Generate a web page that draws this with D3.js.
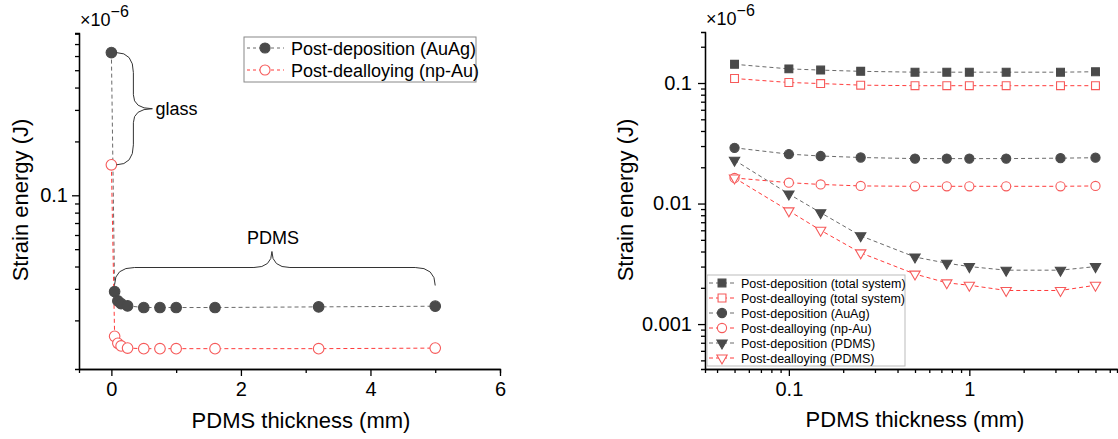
<!DOCTYPE html>
<html>
<head>
<meta charset="utf-8">
<script src="https://cdn.jsdelivr.net/npm/d3@7"></script>
<style>
  body { margin: 0; background: #fff; }
  svg text { font-family: "Liberation Sans", Arial, sans-serif; fill: #000; }
  .axis path, .axis line { stroke: #000; stroke-width: 1.3; }
  .axis text { font-size: 20px; }
</style>
</head>
<body>
<svg id="chart" width="1118" height="439"></svg>
<script>
// PDMS thickness (mm)
var thickness = [0.05, 0.1, 0.15, 0.25, 0.5, 0.75, 1, 1.6, 3.2, 5];
var glassThickness = 0;
// strain energy values (x1e-6 J)
var glassAuAg = 0.627;
var glassNpAu = 0.148;
var depTotal = [0.143, 0.131, 0.128, 0.125, 0.123, 0.123, 0.123, 0.123, 0.123, 0.124];
var deaTotal = [0.109, 0.101, 0.099, 0.096, 0.095, 0.095, 0.095, 0.095, 0.095, 0.095];
var depAuAg = [0.029, 0.0257, 0.0248, 0.0241, 0.0236, 0.0236, 0.0236, 0.0236, 0.0238, 0.024];
var deaNpAu = [0.0163, 0.0149, 0.0144, 0.014, 0.0139, 0.0139, 0.0139, 0.0139, 0.0139, 0.014];
var depPDMS = [0.0229, 0.012, 0.0084, 0.0054, 0.0036, 0.0032, 0.003, 0.0028, 0.0028, 0.003];
var deaPDMS = [0.0163, 0.0087, 0.006, 0.0039, 0.0026, 0.0022, 0.0021, 0.0019, 0.0019, 0.0021];

var leftXTicks = [0, 2, 4, 6];
var leftXMinor = [1, 3, 5];
var leftYTicks = [0.1];
var rightYTicks = [0.001, 0.01, 0.1];
var rightXTicks = [0.1, 1];

var leftNames = ["Post-deposition (AuAg)", "Post-dealloying (np-Au)"];
var rightNames = ["Post-deposition (total system)", "Post-dealloying (total system)",
    "Post-deposition (AuAg)", "Post-dealloying (np-Au)",
    "Post-deposition (PDMS)", "Post-dealloying (PDMS)"];

var DARK = "#4a4a4a", GRAYLINE = "#6a6a6a", RED = "#ff3b3b", REDMARK = "#f65a5a";

var svg = d3.select("#chart");

function logMinor(domain) {
    var out = [];
    for (var e = -5; e <= 1; e++) {
        for (var k = 2; k <= 9; k++) {
            var v = k * Math.pow(10, e);
            if (v >= domain[0] && v <= domain[1]) out.push(+v.toPrecision(3));
        }
    }
    return out;
}

function fmt(d) { return String(+d.toPrecision(3)); }

function sup(sel, x, y) {
    var t = sel.append("text").attr("x", x).attr("y", y);
    t.append("tspan").attr("font-size", 18).text("\u00d710");
    t.append("tspan").attr("dy", -9).attr("font-size", 16).text("\u22126");
    return t;
}

function marker(g, shape, x, y, filled, sz) {
    var type = shape == "square" ? d3.symbolSquare : shape == "tri" ? d3.symbolTriangle : d3.symbolCircle;
    g.append("path")
        .attr("d", d3.symbol().type(type).size(sz)())
        .attr("transform", "translate(" + x + "," + y + ")" + (shape == "tri" ? " rotate(180)" : ""))
        .attr("fill", filled ? DARK : "#fff")
        .attr("stroke", filled ? DARK : REDMARK)
        .attr("stroke-width", 1.1);
}

// ---------------- left chart ----------------
var xL = d3.scaleLinear().domain([-0.5, 6]).range([79, 500]);
var yL = d3.scaleLog().domain([0.0107, 0.807]).range([369, 33]);

var gL = svg.append("g");

gL.append("g").attr("class", "axis").attr("transform", "translate(0,369)")
    .call(d3.axisBottom(xL).tickValues(leftXMinor).tickSize(4).tickFormat(""));
gL.append("g").attr("class", "axis").attr("transform", "translate(0,369)")
    .call(d3.axisBottom(xL).tickValues(leftXTicks).tickSizeInner(7).tickSizeOuter(0).tickPadding(6).tickFormat(d3.format("d")));
gL.append("g").attr("class", "axis").attr("transform", "translate(79,0)")
    .call(d3.axisLeft(yL).tickValues(logMinor(yL.domain())).tickSize(4).tickFormat(""));
gL.append("g").attr("class", "axis").attr("transform", "translate(79,0)")
    .call(d3.axisLeft(yL).tickValues(leftYTicks).tickSizeInner(7).tickSizeOuter(0).tickPadding(4).tickFormat(fmt));

gL.append("text").attr("transform", "translate(28,200) rotate(-90)")
    .attr("text-anchor", "middle").style("font-size", "22px").text("Strain energy (J)");
gL.append("text").attr("x", 301).attr("y", 428)
    .attr("text-anchor", "middle").style("font-size", "22px").text("PDMS thickness (mm)");
sup(gL, 80, 26);

var leftSeries = [
    { x: [glassThickness].concat(thickness), y: [glassAuAg].concat(depAuAg), filled: true },
    { x: [glassThickness].concat(thickness), y: [glassNpAu].concat(deaNpAu), filled: false }
];

var lineL = d3.line().x(function (d) { return xL(d[0]); }).y(function (d) { return yL(d[1]); });

leftSeries.forEach(function (s) {
    var pts = s.x.map(function (v, i) { return [v, s.y[i]]; });
    gL.append("path").attr("d", lineL(pts)).attr("fill", "none")
        .attr("stroke", s.filled ? GRAYLINE : RED).attr("stroke-width", 1)
        .attr("stroke-dasharray", "4,3");
});
leftSeries.forEach(function (s) {
    s.x.forEach(function (v, i) {
        marker(gL, "circle", xL(v), yL(s.y[i]), s.filled, 88);
    });
});

// braces
var bx = xL(glassThickness) + 5, byT = yL(glassAuAg), byB = yL(glassNpAu), bym = (byT + byB) / 2;
gL.append("path").attr("fill", "none").attr("stroke", "#333").attr("stroke-width", 1)
    .attr("d", "M" + bx + "," + byT +
        " Q" + (bx + 17) + "," + byT + " " + (bx + 17) + "," + (byT + 20) +
        " L" + (bx + 17) + "," + (bym - 14) +
        " Q" + (bx + 17) + "," + bym + " " + (bx + 36) + "," + bym +
        " Q" + (bx + 17) + "," + bym + " " + (bx + 17) + "," + (bym + 14) +
        " L" + (bx + 17) + "," + (byB - 20) +
        " Q" + (bx + 17) + "," + byB + " " + bx + "," + byB);
gL.append("text").attr("x", bx + 39).attr("y", bym + 6).style("font-size", "18px").text("glass");

var hx1 = xL(thickness[0]), hx2 = xL(thickness[thickness.length - 1]);
var hy = yL(depAuAg[0]) - 7, hxm = (hx1 + hx2) / 2 - 3;
gL.append("path").attr("fill", "none").attr("stroke", "#333").attr("stroke-width", 1)
    .attr("d", "M" + hx1 + "," + hy +
        " Q" + hx1 + "," + (hy - 17) + " " + (hx1 + 20) + "," + (hy - 17) +
        " L" + (hxm - 18) + "," + (hy - 17) +
        " Q" + hxm + "," + (hy - 17) + " " + hxm + "," + (hy - 33) +
        " Q" + hxm + "," + (hy - 17) + " " + (hxm + 18) + "," + (hy - 17) +
        " L" + (hx2 - 20) + "," + (hy - 17) +
        " Q" + hx2 + "," + (hy - 17) + " " + hx2 + "," + (hy + 1));
gL.append("text").attr("x", hxm + 1).attr("y", hy - 41).attr("text-anchor", "middle")
    .style("font-size", "18px").text("PDMS");

// left legend
var lgL = gL.append("g").attr("transform", "translate(244,37)");
lgL.append("rect").attr("width", 232).attr("height", 45).attr("fill", "#fff")
    .attr("stroke", "#888").attr("stroke-width", 1);
leftNames.forEach(function (n, i) {
    var y = 11 + i * 22;
    lgL.append("line").attr("x1", 3).attr("x2", 40).attr("y1", y).attr("y2", y)
        .attr("stroke", i == 0 ? GRAYLINE : RED).attr("stroke-dasharray", "3,3");
    marker(lgL, "circle", 21, y, i == 0, 80);
    lgL.append("text").attr("x", 47).attr("y", y + 6.5).style("font-size", "18px").text(n);
});

// ---------------- right chart ----------------
var xR = d3.scaleLog().domain([0.0343, 6.58]).range([705, 1117]);
var yR = d3.scaleLog().domain([0.000424, 0.265]).range([369, 32]);
var gR = svg.append("g");

gR.append("g").attr("class", "axis").attr("transform", "translate(0,369)")
    .call(d3.axisBottom(xR).tickValues(logMinor(xR.domain())).tickSize(4).tickFormat(""));
gR.append("g").attr("class", "axis").attr("transform", "translate(0,369)")
    .call(d3.axisBottom(xR).tickValues(rightXTicks).tickSizeInner(7).tickSizeOuter(0).tickPadding(6).tickFormat(fmt));
gR.append("g").attr("class", "axis").attr("transform", "translate(705,0)")
    .call(d3.axisLeft(yR).tickValues(logMinor(yR.domain())).tickSize(4).tickFormat(""));
gR.append("g").attr("class", "axis").attr("transform", "translate(705,0)")
    .call(d3.axisLeft(yR).tickValues(rightYTicks).tickSizeInner(7).tickSizeOuter(0).tickPadding(6).tickFormat(fmt));

gR.append("text").attr("transform", "translate(633,200) rotate(-90)")
    .attr("text-anchor", "middle").style("font-size", "22px").text("Strain energy (J)");
gR.append("text").attr("x", 915).attr("y", 427)
    .attr("text-anchor", "middle").style("font-size", "22px").text("PDMS thickness (mm)");
sup(gR, 706, 25);

var rightSeries = [
    { y: depTotal, shape: "square", filled: true },
    { y: deaTotal, shape: "square", filled: false },
    { y: depAuAg, shape: "circle", filled: true },
    { y: deaNpAu, shape: "circle", filled: false },
    { y: depPDMS, shape: "tri", filled: true },
    { y: deaPDMS, shape: "tri", filled: false }
];
var sizes = { square: 62, circle: 66, tri: 46 };

var lineR = d3.line().x(function (d) { return xR(d[0]); }).y(function (d) { return yR(d[1]); });
rightSeries.forEach(function (s) {
    var pts = thickness.map(function (v, i) { return [v, s.y[i]]; });
    gR.append("path").attr("d", lineR(pts)).attr("fill", "none")
        .attr("stroke", s.filled ? GRAYLINE : RED).attr("stroke-width", 1)
        .attr("stroke-dasharray", "4,3");
});
rightSeries.forEach(function (s) {
    thickness.forEach(function (v, i) {
        marker(gR, s.shape, xR(v), yR(s.y[i]), s.filled, sizes[s.shape]);
    });
});

// right legend
var lgR = gR.append("g").attr("transform", "translate(707,275)");
lgR.append("rect").attr("width", 198).attr("height", 91).attr("fill", "#fff")
    .attr("stroke", "#bbb").attr("stroke-width", 1);
rightNames.forEach(function (n, i) {
    var y = 8 + i * 15;
    var s = rightSeries[i];
    lgR.append("line").attr("x1", 2).attr("x2", 30).attr("y1", y).attr("y2", y)
        .attr("stroke", s.filled ? GRAYLINE : RED).attr("stroke-dasharray", "4,3");
    marker(lgR, s.shape, 15, y, s.filled, sizes[s.shape]);
    lgR.append("text").attr("x", 34).attr("y", y + 4.5).style("font-size", "12.5px").text(n);
});
</script>
</body>
</html>
